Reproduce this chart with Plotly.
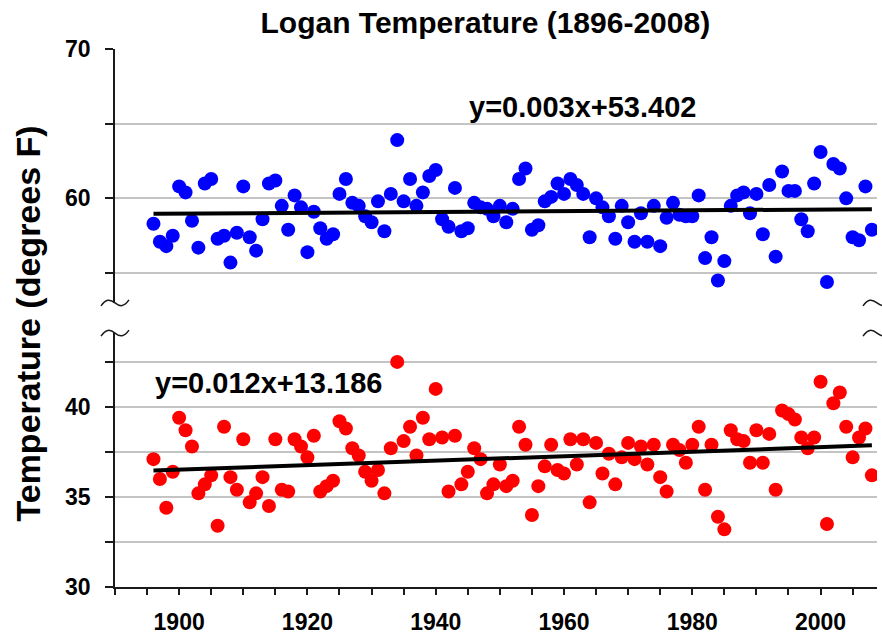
import numpy as np
import plotly.graph_objects as go

# Annual temperatures at Logan, 1896-2008 (degrees F)
years = list(range(1896, 2009))

upper_temps = [
    58.3, 57.1, 56.8, 57.5, 60.8, 60.4, 58.5, 56.7, 61.0, 61.3,
    57.3, 57.5, 55.7, 57.7, 60.8, 57.4, 56.5, 58.6, 61.0, 61.2,
    59.5, 57.9, 60.2, 59.4, 56.4, 59.1, 58.0, 57.3, 57.6, 60.3,
    61.3, 59.7, 59.5, 58.8, 58.4, 59.8, 57.8, 60.3, 63.9, 59.8,
    61.3, 59.5, 60.4, 61.5, 61.9, 58.6, 58.1, 60.7, 57.8, 58.0,
    59.7, 59.4, 59.3, 58.8, 59.5, 58.4, 59.3, 61.3, 62.0, 57.9,
    58.2, 59.8, 60.1, 61.0, 60.3, 61.3, 60.9, 60.3, 57.4, 60.0,
    59.4, 58.8, 57.3, 59.5, 58.4, 57.1, 59.0, 57.1, 59.5, 56.8,
    58.7, 59.7, 58.9, 58.8, 58.8, 60.2, 56.0, 57.4, 54.5, 55.8,
    59.5, 60.2, 60.4, 59.0, 60.3, 57.6, 60.9, 56.1, 61.8, 60.5,
    60.5, 58.6, 57.8, 61.0, 63.1, 54.4, 62.3, 62.0, 60.0, 57.4,
    57.2, 60.8, 57.9,
]

lower_temps = [
    37.1, 36.0, 34.4, 36.4, 39.4, 38.7, 37.8, 35.2, 35.7, 36.2,
    33.4, 38.9, 36.1, 35.4, 38.2, 34.7, 35.2, 36.1, 34.5, 38.2,
    35.4, 35.3, 38.2, 37.8, 37.2, 38.4, 35.3, 35.6, 35.9, 39.2,
    38.8, 37.7, 37.3, 36.4, 35.9, 36.5, 35.2, 37.7, 42.5, 38.1,
    38.9, 37.3, 39.4, 38.2, 41.0, 38.3, 35.3, 38.4, 35.7, 36.4,
    37.7, 37.1, 35.2, 35.7, 36.8, 35.6, 35.9, 38.9, 37.9, 34.0,
    35.6, 36.7, 37.9, 36.5, 36.3, 38.2, 36.8, 38.2, 34.7, 38.0,
    36.3, 37.4, 35.7, 37.2, 38.0, 37.1, 37.8, 36.8, 37.9, 36.1,
    35.3, 37.9, 37.6, 36.9, 37.9, 38.9, 35.4, 37.9, 33.9, 33.2,
    38.7, 38.2, 38.1, 36.9, 38.7, 36.9, 38.5, 35.4, 39.8, 39.6,
    39.3, 38.3, 37.7, 38.3, 41.4, 33.5, 40.2, 40.8, 38.9, 37.2,
    38.3, 38.8, 36.2,
]

upper_fit_label = "y=0.003x+53.402"
lower_fit_label = "y=0.012x+13.186"
chart_title = "Logan Temperature (1896-2008)"
y_title = "Temperature (degrees F)"

x_ticks = list(range(1890, 2010, 5))
x_ticktext = [str(v) if v % 20 == 0 else "" for v in x_ticks]
upper_ticks = [55, 60, 65, 70]
upper_ticktext = ["", "60", "", "70"]
lower_ticks = [30, 32.5, 35, 37.5, 40, 42.5]
lower_ticktext = ["30", "", "35", "", "40", ""]

X_RANGE = [1890, 2008.8]
UPPER_RANGE = [53, 70]
LOWER_RANGE = [30, 44.1]
UPPER_DOMAIN = [0.528, 1.0]
LOWER_DOMAIN = [0.0, 0.472]

FONT = "Liberation Sans, Arial, sans-serif"
AXIS_COLOR = "#1a1a1a"
GRID_COLOR = "#c4c4c4"


def trend(xs, ys):
    slope, intercept = np.polyfit(xs, ys, 1)
    ends = np.array([xs[0], xs[-1]], dtype=float)
    return ends, slope * ends + intercept


fig = go.Figure()

fig.add_trace(go.Scatter(
    x=years, y=upper_temps, mode="markers", xaxis="x", yaxis="y2",
    marker=dict(color="#0000FF", size=14, line=dict(width=0)),
    showlegend=False,
))
ux, uy = trend(years, upper_temps)
fig.add_trace(go.Scatter(
    x=ux, y=uy, mode="lines", xaxis="x", yaxis="y2",
    line=dict(color="black", width=4), showlegend=False,
))

fig.add_trace(go.Scatter(
    x=years, y=lower_temps, mode="markers", xaxis="x", yaxis="y",
    marker=dict(color="#FF0000", size=14, line=dict(width=0)),
    showlegend=False,
))
lx, ly = trend(years, lower_temps)
fig.add_trace(go.Scatter(
    x=lx, y=ly, mode="lines", xaxis="x", yaxis="y",
    line=dict(color="black", width=4), showlegend=False,
))

tick_font = dict(family=FONT, size=23, color="black", weight="bold")

common_y = dict(
    showline=True, linecolor=AXIS_COLOR, linewidth=1.5,
    zeroline=False, tickcolor=AXIS_COLOR, tickwidth=1.5,
    tickfont=tick_font, automargin=False,
)

fig.update_layout(
    width=882, height=635,
    margin=dict(l=115, r=5, t=49, b=48, autoexpand=False),
    paper_bgcolor="white", plot_bgcolor="white",
    title=dict(
        text=f"<b>{chart_title}</b>",
        font=dict(family=FONT, size=30, color="black"),
        x=0.486, xref="paper", xanchor="center",
        y=1 - 22 / 635, yref="container", yanchor="middle",
    ),
    xaxis=dict(
        range=X_RANGE, anchor="y", domain=[0, 1],
        tickmode="array", tickvals=x_ticks, ticktext=x_ticktext,
        ticks="outside", ticklen=6, tickwidth=1.5, tickcolor=AXIS_COLOR,
        showline=True, linecolor=AXIS_COLOR, linewidth=1.5,
        showgrid=False, zeroline=False, tickfont=tick_font,
        ticklabelstandoff=8, automargin=False,
    ),
    xaxis2=dict(
        range=X_RANGE, overlaying="x", anchor="y2", side="top",
        tickmode="array", tickvals=x_ticks,
        ticks="inside", ticklen=5, tickwidth=1.5, tickcolor=AXIS_COLOR,
        showline=True, linecolor=AXIS_COLOR, linewidth=1.5,
        showgrid=False, zeroline=False, showticklabels=False,
        automargin=False,
    ),
    yaxis=dict(
        domain=LOWER_DOMAIN, range=LOWER_RANGE, anchor="x",
        tickmode="array", tickvals=lower_ticks, ticktext=lower_ticktext,
        ticks="outside", ticklen=8,
        showgrid=True, gridcolor=GRID_COLOR, gridwidth=1.5,
        ticklabelstandoff=10,
        **common_y,
    ),
    yaxis2=dict(
        domain=UPPER_DOMAIN, range=UPPER_RANGE, anchor="x",
        tickmode="array", tickvals=upper_ticks, ticktext=upper_ticktext,
        ticks="outside", ticklen=8,
        showgrid=True, gridcolor=GRID_COLOR, gridwidth=1.5,
        ticklabelstandoff=10,
        **common_y,
    ),
    yaxis3=dict(
        overlaying="y", side="right", anchor="x", range=LOWER_RANGE,
        tickmode="array", tickvals=lower_ticks,
        ticks="inside", ticklen=5, showgrid=False, showticklabels=False,
        **common_y,
    ),
    yaxis4=dict(
        overlaying="y2", side="right", anchor="x", range=UPPER_RANGE,
        tickmode="array", tickvals=upper_ticks,
        ticks="inside", ticklen=5, showgrid=False, showticklabels=False,
        **common_y,
    ),
)

# Fit equations
eq_font = dict(family=FONT, size=29, color="black")
fig.add_annotation(
    x=1944.9, y=66.1, xref="x", yref="y2", text=f"<b>{upper_fit_label}</b>",
    showarrow=False, xanchor="left", yanchor="middle", font=eq_font,
)
fig.add_annotation(
    x=1895.9, y=41.35, xref="x", yref="y", text=f"<b>{lower_fit_label}</b>",
    showarrow=False, xanchor="left", yanchor="middle", font=eq_font,
)

# Shared y-axis title spanning both panels
fig.add_annotation(
    x=-0.114, y=0.49, xref="paper", yref="paper", text=f"<b>{y_title}</b>",
    showarrow=False, textangle=-90, xanchor="center", yanchor="middle",
    font=dict(family=FONT, size=34, color="black"),
)

# Axis-break squiggles where each panel's vertical axes stop
squiggle = "M -14,-3 C -9,4 -5,4 0,0 C 5,-4 9,-4 14,3"
for xpos in (0, 1):
    for ypos in (UPPER_DOMAIN[0], LOWER_DOMAIN[1]):
        fig.add_shape(
            type="path", path=squiggle,
            xref="paper", yref="paper",
            xsizemode="pixel", ysizemode="pixel",
            xanchor=xpos, yanchor=ypos,
            line=dict(color=AXIS_COLOR, width=1.5),
        )

fig.write_html("out.html")
